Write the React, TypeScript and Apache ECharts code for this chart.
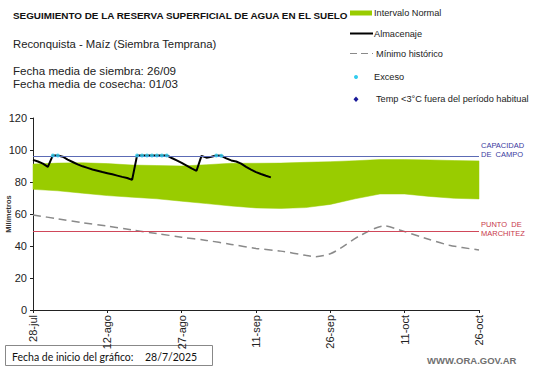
import React, { useEffect, useRef } from "react";
import * as echarts from "echarts";

// ---- data ----
const xTickLabels = ["28-jul", "12-ago", "27-ago", "11-sep", "26-sep", "11-oct", "26-oct"];

const bandDays = [0, 5, 10, 15, 20, 25, 30, 35, 40, 45, 50, 55, 60, 65, 70, 75, 80, 85, 90];
const bandUpper = [91.2, 91.8, 92, 91.5, 90.6, 90.3, 90, 90.8, 91.7, 91.7, 91.8, 92.3, 92.7, 93.3, 94, 94, 93.8, 93.4, 93.2];
const bandLower = [75.4, 74.5, 73, 71.5, 70.5, 69.5, 68, 66.5, 65, 63.8, 63.5, 64, 66, 69.5, 72.5, 72.5, 71, 69.8, 69.4];

// daily values, day 0 = 28-jul
const almacenaje = [
  93.8, 92.8, 91.5, 89.5, 96.6, 96.6, 95.8, 94, 92.5, 91, 89.8, 88.8, 87.8, 87, 86.2, 85.5, 84.8, 84, 83.2, 82.5,
  81.3, 96.6, 96.6, 96.6, 96.6, 96.6, 96.6, 96.6, 95, 93.5, 92, 90.3, 88.5, 87, 96.3, 95.2, 95.8, 96.6, 96.4, 94.8,
  93.5, 92.8, 91.5, 89.5, 87.8, 86.2, 85, 83.9, 82.9,
];

const excesoDays = [4, 5, 21, 22, 23, 24, 25, 26, 27, 37, 38];
const excesoVals = [96.6, 96.6, 96.6, 96.6, 96.6, 96.6, 96.6, 96.6, 96.6, 96.6, 96.4];

const minDays = [0, 5, 10, 15, 20, 25, 30, 35, 40, 45, 50, 55, 57, 60, 62, 66, 71, 74, 79, 84, 90];
const minVals = [59.4, 57, 54.5, 52.5, 50, 47.8, 45.5, 43.5, 41, 38.5, 36.8, 34.2, 33.3, 35.2, 38.5, 46.5, 52.5, 50, 45, 40.5, 37.5];

const capacidadCampo = 96.3;
const puntoMarchitez = 49.5;

const FONT = '"Liberation Sans", Arial, sans-serif';

function txt(x: number, y: number, text: string, font: string, fill: string, align = "left", rotation = 0) {
  return {
    type: "text",
    x,
    y,
    rotation,
    silent: true,
    style: {
      text,
      font,
      fill,
      align,
      textAlign: align,
      verticalAlign: "middle",
      textVerticalAlign: "middle",
    },
  };
}

export default function App() {
  const ref = useRef<HTMLDivElement>(null);

  useEffect(() => {
    if (!ref.current) return;
    const chart = echarts.init(ref.current, undefined, { renderer: "svg" });

    const legendFont = `9.2px ${FONT}`;
    const option: any = {
      animation: false,
      backgroundColor: "#ffffff",
      grid: { left: 33, right: 62, top: 118, bottom: 58, containLabel: false, outerBoundsMode: "none" },
      xAxis: {
        type: "value",
        min: 0,
        max: 90,
        interval: 15,
        axisLine: { show: true, lineStyle: { color: "#222", width: 1 } },
        axisTick: { show: true, length: 3, lineStyle: { color: "#222" } },
        splitLine: { show: false },
        axisLabel: {
          rotate: 90,
          margin: 5,
          fontSize: 11,
          fontFamily: FONT,
          color: "#222",
          formatter: (v: number) => xTickLabels[Math.round(v / 15)] ?? "",
        },
      },
      yAxis: {
        type: "value",
        min: 0,
        max: 120,
        interval: 20,
        axisLine: { show: true, lineStyle: { color: "#222", width: 1 } },
        axisTick: { show: true, length: 3, lineStyle: { color: "#222" } },
        splitLine: { show: false },
        axisLabel: { fontSize: 11, fontFamily: FONT, color: "#222", margin: 6 },
      },
      series: [
        {
          name: "Intervalo Normal",
          type: "custom",
          data: [[0, 80]],
          silent: true,
          z: 1,
          renderItem: (_params: any, api: any) => {
            const up = bandDays.map((d, i) => api.coord([d, bandUpper[i]]));
            const lo = bandDays.map((d, i) => api.coord([d, bandLower[i]])).reverse();
            return {
              type: "polygon",
              shape: { points: up.concat(lo) },
              style: { fill: "#99cc00", stroke: "#99cc00", lineWidth: 0.5 },
            };
          },
        },
        {
          name: "Mínimo histórico",
          type: "line",
          data: minDays.map((d, i) => [d, minVals[i]]),
          symbol: "none",
          smooth: 0.3,
          lineStyle: { color: "#8a8a8a", width: 1.5, type: [8, 5] },
          z: 3,
          markLine: {
            silent: true,
            symbol: "none",
            label: { show: false },
            data: [
              { yAxis: capacidadCampo, lineStyle: { color: "#5c6bb5", width: 1, type: "solid" } },
              { yAxis: puntoMarchitez, lineStyle: { color: "#d0485a", width: 1, type: "solid" } },
            ],
          },
        },
        {
          name: "Almacenaje",
          type: "line",
          data: almacenaje.map((v, i) => [i, v]),
          symbol: "none",
          lineStyle: { color: "#000", width: 2 },
          z: 4,
        },
        {
          name: "Exceso",
          type: "scatter",
          data: excesoDays.map((d, i) => [d, excesoVals[i]]),
          symbol: "circle",
          symbolSize: 4,
          itemStyle: { color: "#33ccee" },
          z: 5,
        },
      ],
      graphic: [
        txt(13, 15, "SEGUIMIENTO DE LA RESERVA SUPERFICIAL DE AGUA EN EL SUELO", `bold 9.9px ${FONT}`, "#111"),
        txt(13, 44, "Reconquista - Maíz (Siembra Temprana)", `11.3px ${FONT}`, "#222"),
        txt(13, 70, "Fecha media de siembra: 26/09", `11.6px ${FONT}`, "#222"),
        txt(13, 83, "Fecha media de cosecha: 01/03", `11.6px ${FONT}`, "#222"),
        txt(8, 214, "Milímetros", `bold 7.5px ${FONT}`, "#333", "center", Math.PI / 2),
        // legend
        { type: "rect", shape: { x: 350, y: 10.5, width: 22, height: 5 }, style: { fill: "#99cc00" }, silent: true },
        txt(374, 13, "Intervalo Normal", legendFont, "#222"),
        { type: "line", shape: { x1: 350, y1: 33.5, x2: 373, y2: 33.5 }, style: { stroke: "#000", lineWidth: 2 }, silent: true },
        txt(374, 34, "Almacenaje", legendFont, "#222"),
        { type: "line", shape: { x1: 350, y1: 53.5, x2: 373, y2: 53.5 }, style: { stroke: "#8a8a8a", lineWidth: 1.2, lineDash: [7, 4] }, silent: true },
        txt(376, 54, "Mínimo histórico", legendFont, "#222"),
        { type: "circle", shape: { cx: 356, cy: 77, r: 2 }, style: { fill: "#33ccee" }, silent: true },
        txt(374, 77, "Exceso", legendFont, "#222"),
        { type: "polygon", shape: { points: [[356, 96.5], [358.5, 99.2], [356, 101.9], [353.5, 99.2]] }, style: { fill: "#1a1a99" }, silent: true },
        txt(376, 99.3, "Temp <3°C fuera del período habitual", legendFont, "#222"),
        // reference-line labels
        txt(481, 145, "CAPACIDAD", `7.5px ${FONT}`, "#3a3aa0"),
        txt(481, 154, "DE  CAMPO", `7.5px ${FONT}`, "#3a3aa0"),
        txt(481, 224, "PUNTO  DE", `7.5px ${FONT}`, "#c8384a"),
        txt(481, 233, "MARCHITEZ", `7.5px ${FONT}`, "#c8384a"),
        // bottom box
        { type: "rect", shape: { x: 5.5, y: 345.5, width: 207, height: 20 }, style: { fill: "#fff", stroke: "#888", lineWidth: 1 }, silent: true },
        txt(12, 356.5, "Fecha de inicio del gráfico:", `10.5px Lato, ${FONT}`, "#111"),
        txt(145, 356.5, "28/7/2025", `10.5px Lato, ${FONT}`, "#111"),
        txt(427, 360, "WWW.ORA.GOV.AR", `bold 9.5px ${FONT}`, "#707070"),
      ],
    };

    chart.setOption(option);
    return () => chart.dispose();
  }, []);

  return (
    <div
      ref={ref}
      style={{ position: "fixed", left: 0, top: 0, width: 541, height: 368, background: "#fff" }}
    />
  );
}
